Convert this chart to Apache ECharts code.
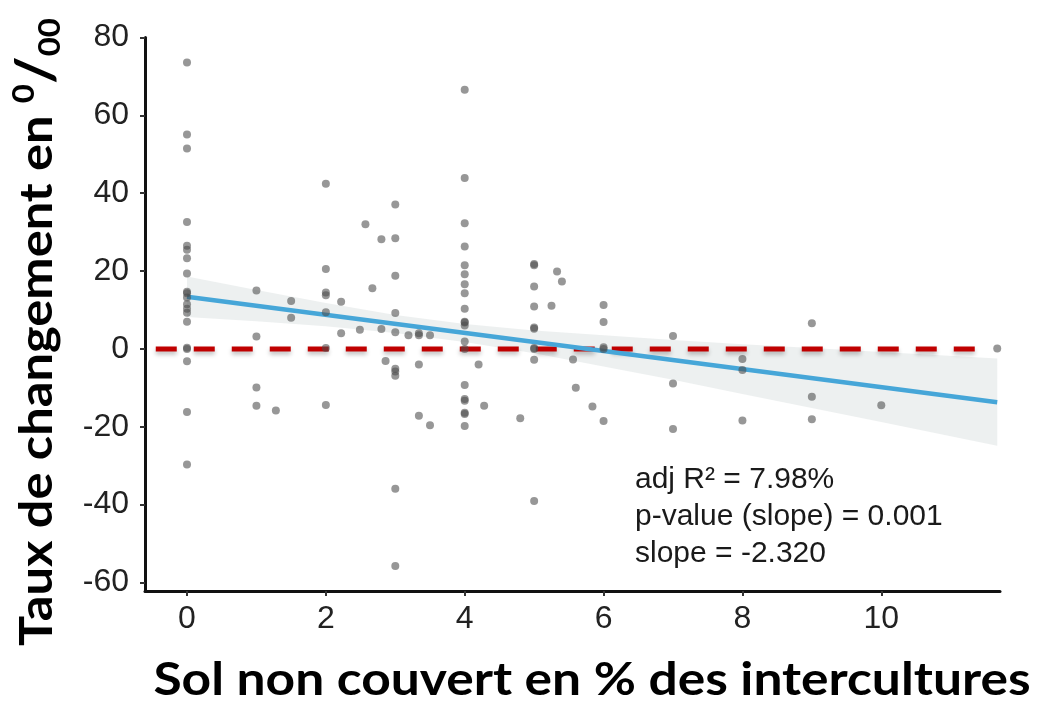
<!DOCTYPE html>
<html>
<head>
<meta charset="utf-8">
<script src="https://cdn.jsdelivr.net/npm/echarts@6/dist/echarts.min.js"></script>
<style>html,body{margin:0;padding:0;background:#fff;}#c{width:1045px;height:707px;}</style>
</head>
<body>
<div id="c"></div>
<script>
// ---- data ----
const pointX = [
  0,0,0,0,0,0,0,0,0,0,0,0,0,0,0,0,0,0,0,0,
  1,1,1,1, 1.28, 1.5,1.5,
  2,2,2,2,2,2,2, 2.22,2.22, 2.49, 2.57, 2.67, 2.8,2.8, 2.86,
  3,3,3,3,3,3,3,3,3,3, 3.19, 3.34,3.34,3.34,3.34, 3.5,3.5,
  4,4,4,4,4,4,4,4,4,4,4,4,4,4,4,4,4,4,4,4, 4.2, 4.28, 4.8,
  5,5,5,5,5,5,5,5,5,5, 5.25, 5.33, 5.4, 5.56, 5.6, 5.84,
  6,6,6,6,6, 7,7,7, 8,8,8, 9,9,9, 10, 11.67
];
const pointY = [
  73.6,55.1,51.5,32.6,26.5,25.5,23.3,19.4,14.7,14.3,13.2,11.5,10.3,9.3,7.0,0,0.3,-3.2,-16.2,-29.7,
  15.0,3.2,-9.9,-14.6, -15.8, 12.3,8.0,
  42.4,20.5,14.5,13.8,9.4,0.2,-14.4, 12.1,4.0, 4.9, 32.0, 15.6, 28.2,5.1, -3.1,
  37.1,28.4,18.8,9.2,4.3,-5.1,-5.8,-6.9,-35.9,-55.8, 3.5, 4.0,3.5,-4.0,-17.2, 3.5,-19.6,
  66.6,43.9,32.3,26.3,21.5,19.2,16.6,14.3,10.3,7.0,6.8,6.0,1.9,0,-9.3,-12.9,-13.3,-16.4,-16.7,-19.8, -4.0, -14.6, -17.8,
  21.8,21.5,16.0,10.9,5.5,5.2,0.2,0,-2.8,-39.1, 11.1, 19.9, 17.3, -2.7, -10.0, -14.8,
  11.3,6.9,0.4,0,-18.5, 3.3,-8.9,-20.6, -2.6,-5.4,-18.4, 6.6,-12.3,-18.1, -14.5, 0.1
];
// regression line end points
const fitX = [0, 11.67];
const fitY = [13.4, -13.7];
// confidence band
const bandX     = [0, 1, 2, 3, 4, 5, 6, 7, 8, 9, 10, 11.67];
const bandUpper = [18.6, 15.1, 11.8, 8.7, 6.4, 4.7, 3.5, 2.3, 1.2, 0.2, -0.8, -2.5];
const bandLower = [8.2, 7.1, 5.8, 4.1, 1.8, -1.1, -4.5, -7.9, -11.6, -15.2, -18.8, -24.9];
// zero reference line
const zeroX = [-0.45, 11.38];
const zeroY = [0, 0];
// ticks
const xTicks = [0, 2, 4, 6, 8, 10];
const yTicks = [-60, -40, -20, 0, 20, 40, 60, 80];
const statLines = ['adj R\u00B2 = 7.98%', 'p-value (slope) = 0.001', 'slope = -2.320'];
const xTitle = 'Sol non couvert en % des intercultures';
const yTitle = 'Taux de changement en ';

// ---- build ----
const scatterData = pointX.map((x, i) => [x, pointY[i]]);
const fitData = fitX.map((x, i) => [x, fitY[i]]);
const zeroData = zeroX.map((x, i) => [x, zeroY[i]]);

const chart = echarts.init(document.getElementById('c'), null, {renderer: 'canvas'});
chart.setOption({
  animation: false,
  backgroundColor: '#ffffff',
  grid: {left: 145, right: 45, top: 37.5, bottom: 116, containLabel: false},
  xAxis: {
    type: 'value', min: -0.605, max: 11.71,
    axisLine: {show: true, onZero: false, lineStyle: {color: '#111', width: 3}},
    axisTick: {show: true, customValues: xTicks, length: 5, lineStyle: {color: '#333', width: 2}},
    axisLabel: {customValues: xTicks, margin: 12, color: '#222', fontFamily: 'Liberation Sans', fontSize: 32},
    splitLine: {show: false}
  },
  yAxis: {
    type: 'value', min: -62.2, max: 80,
    axisLine: {show: true, onZero: false, lineStyle: {color: '#111', width: 3}},
    axisTick: {show: true, customValues: yTicks, length: 5, lineStyle: {color: '#333', width: 2}},
    axisLabel: {customValues: yTicks, margin: 16, color: '#222', fontFamily: 'Liberation Sans', fontSize: 32},
    splitLine: {show: false}
  },
  series: [
    {
      type: 'custom', silent: true, z: 1,
      data: [0],
      renderItem: function (params, api) {
        const pts = [];
        for (let i = 0; i < bandX.length; i++) pts.push(api.coord([bandX[i], bandUpper[i]]));
        for (let i = bandX.length - 1; i >= 0; i--) pts.push(api.coord([bandX[i], bandLower[i]]));
        return {type: 'polygon', shape: {points: pts}, style: {fill: 'rgba(220,226,226,0.5)'}};
      }
    },
    {
      type: 'line', data: zeroData, z: 2, symbol: 'none', silent: true,
      lineStyle: {color: '#c00000', width: 5, type: [21, 17], shadowColor: 'rgba(0,0,0,0.25)', shadowBlur: 4, shadowOffsetY: 3}
    },
    {
      type: 'line', data: fitData, z: 3, symbol: 'none', silent: true,
      lineStyle: {color: '#46a6d8', width: 4.5}
    },
    {
      type: 'scatter', data: scatterData, z: 4, symbolSize: 8,
      itemStyle: {color: 'rgba(75,75,75,0.72)'}
    }
  ],
  graphic: [
    {
      type: 'text', left: 635, top: 461,
      style: {text: statLines.join('\n'), font: '30px "Liberation Sans"', fill: '#1a1a1a', lineHeight: 37}
    },
    {
      type: 'text', x: 592, y: 703, scaleX: 1.12,
      style: {text: xTitle, font: 'bold 46px Lato', fill: '#000', textAlign: 'center', textVerticalAlign: 'bottom'}
    },
    {
      type: 'text', x: 37, y: 332, rotation: Math.PI / 2, scaleX: 1.1,
      style: {
        text: '{a|' + yTitle + '}{s|0}{b|/}{d|00}',
        textAlign: 'center', textVerticalAlign: 'middle', fill: '#000',
        rich: {
          a: {font: 'bold 46px Lato', fill: '#000', lineHeight: 56},
          s: {font: 'bold 30px Lato', fill: '#000', verticalAlign: 'top', lineHeight: 56},
          b: {font: 'bold 54px Lato', fill: '#000', lineHeight: 56},
          d: {font: 'bold 30px Lato', fill: '#000', verticalAlign: 'bottom', lineHeight: 56}
        }
      }
    }
  ]
});
</script>
</body>
</html>
